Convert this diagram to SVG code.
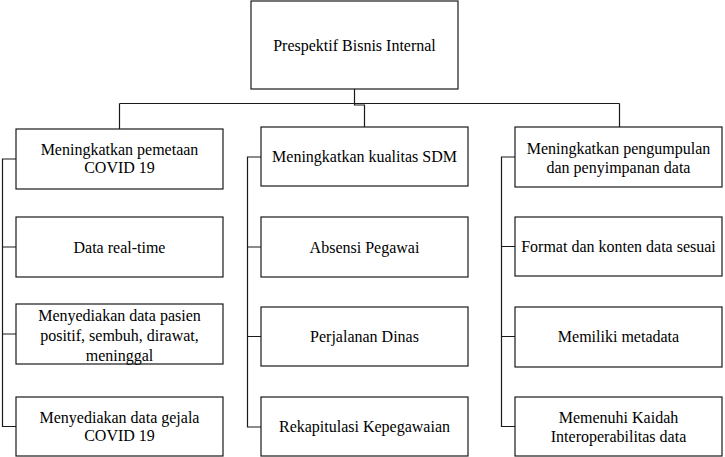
<svg xmlns="http://www.w3.org/2000/svg" width="725" height="457" viewBox="0 0 725 457">
<style>
.box{fill:#fff;stroke:#1a1a1a;stroke-width:1.2}
.t{font-family:"Liberation Serif","Times New Roman",serif;font-size:16px;fill:#000;text-anchor:middle}
.c{fill:none;stroke:#1a1a1a;stroke-width:1.2}
</style>
<rect width="725" height="457" fill="#fff"/>
<g id="connectors">
<path class="c" d="M354.5,89 V103.5 M119.5,103.5 H619.5 M119.5,103.5 V129 M619.5,103.5 V127 M354.5,103.5 V105 H364.5 V127"/>
<path class="c" d="M16,159 H2.5 V426.5 H16 M2.5,247 H16 M2.5,334 H16"/>
<path class="c" d="M261,157 H247.5 V427 H261 M247.5,247 H261 M247.5,336.5 H261"/>
<path class="c" d="M515,157 H501.5 V426.5 H515 M501.5,246.5 H515 M501.5,336.5 H515"/>
</g>
<g id="root"><rect class="box" x="251" y="1" width="207" height="88"/><text class="t" x="354.5" y="50.5">Prespektif Bisnis Internal</text></g>
<g id="l1"><rect class="box" x="16" y="129" width="207" height="60"/><text class="t" x="119.5" y="154.5">Meningkatkan pemetaan</text><text class="t" x="119.5" y="172.5">COVID 19</text></g>
<g id="l2"><rect class="box" x="16" y="217" width="207" height="60"/><text class="t" x="119.5" y="252.5">Data real-time</text></g>
<g id="l3"><rect class="box" x="16" y="304" width="207" height="60"/><text class="t" x="119.5" y="320.5">Menyediakan data pasien</text><text class="t" x="119.5" y="340.5">positif, sembuh, dirawat,</text><text class="t" x="119.5" y="360.5">meninggal</text></g>
<g id="l4"><rect class="box" x="16" y="397" width="207" height="59"/><text class="t" x="119.5" y="422.5">Menyediakan data gejala</text><text class="t" x="119.5" y="440.5">COVID 19</text></g>
<g id="m1"><rect class="box" x="261" y="127" width="207" height="59"/><text class="t" x="364.5" y="162">Meningkatkan kualitas SDM</text></g>
<g id="m2"><rect class="box" x="261" y="217" width="207" height="60"/><text class="t" x="364.5" y="252.5">Absensi Pegawai</text></g>
<g id="m3"><rect class="box" x="261" y="307" width="207" height="59"/><text class="t" x="364.5" y="341.5">Perjalanan Dinas</text></g>
<g id="m4"><rect class="box" x="261" y="397" width="207" height="59"/><text class="t" x="364.5" y="431.5">Rekapitulasi Kepegawaian</text></g>
<g id="r1"><rect class="box" x="515" y="127" width="207" height="60"/><text class="t" x="618.5" y="153.5">Meningkatkan pengumpulan</text><text class="t" x="618.5" y="172.5">dan penyimpanan data</text></g>
<g id="r2"><rect class="box" x="515" y="217" width="207" height="59"/><text class="t" x="618.5" y="251.5">Format dan konten data sesuai</text></g>
<g id="r3"><rect class="box" x="515" y="307" width="207" height="60"/><text class="t" x="618.5" y="341.5">Memiliki metadata</text></g>
<g id="r4"><rect class="box" x="515" y="397" width="207" height="59"/><text class="t" x="618.5" y="422.5">Memenuhi Kaidah</text><text class="t" x="618.5" y="441.5">Interoperabilitas data</text></g>
</svg>
